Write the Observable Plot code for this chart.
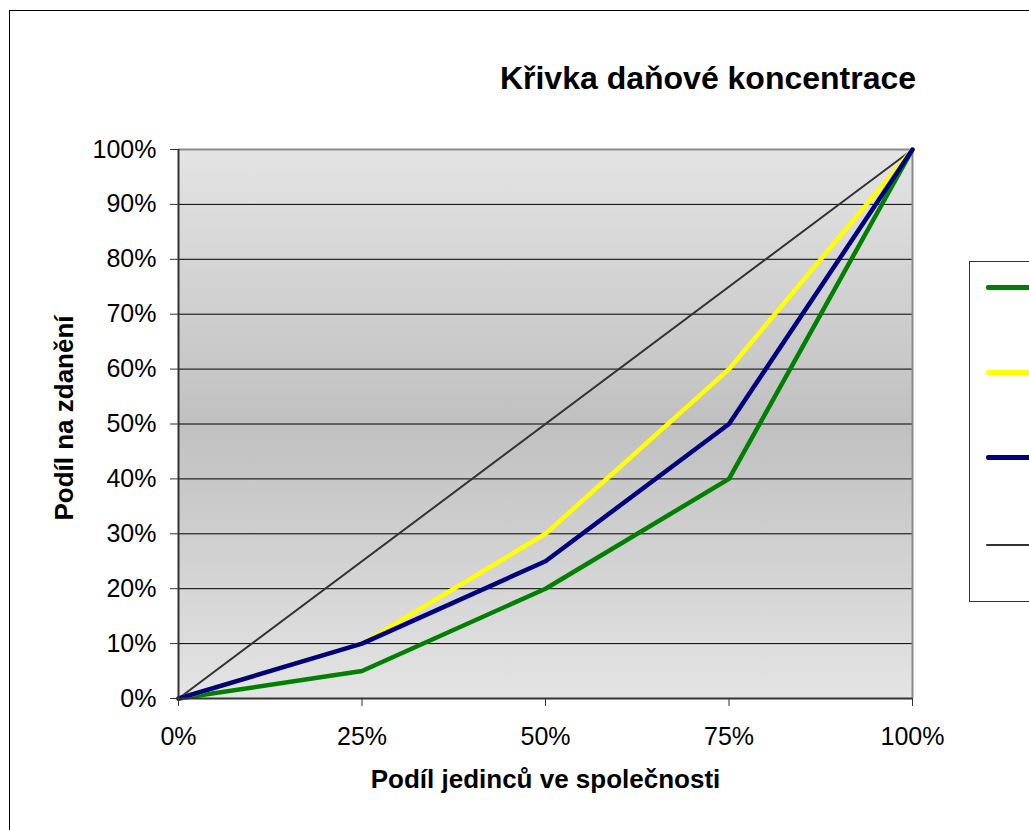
<!DOCTYPE html>
<html>
<head>
<meta charset="utf-8">
<script src="https://cdn.jsdelivr.net/npm/d3@7"></script>
<script src="https://cdn.jsdelivr.net/npm/@observablehq/plot@0.6"></script>
<style>
  html, body { margin: 0; padding: 0; background: #fff; overflow: hidden; }
  #wrap { position: relative; width: 1029px; height: 830px; overflow: hidden; font-family: "Liberation Sans", Arial, sans-serif; }
  #outer { position: absolute; left: 9px; top: 10px; width: 1200px; height: 1000px; border: 1px solid #000; box-sizing: border-box; }
  #chart { position: absolute; left: 0; top: 0; }
  #title { position: absolute; left: 358px; width: 700px; top: 60px; text-align: center; font-weight: bold; font-size: 32px; color: #000; white-space: nowrap; }
  #legend { position: absolute; left: 969px; top: 261px; width: 200px; height: 341px; border: 1px solid #333; box-sizing: border-box; background: #fff; }
  .lg { position: absolute; left: 16px; width: 120px; border-radius: 2px; }
</style>
</head>
<body>
<div id="wrap">
  <div id="outer"></div>
  <div id="chart"></div>
  <div id="title">Křivka daňové koncentrace</div>
  <div id="legend"></div>
</div>
<script>
// ---- data ----
const populationShare = [0, 0.25, 0.5, 0.75, 1];
const seriesGreen  = [0, 0.05, 0.20, 0.40, 1.00];
const seriesYellow = [0, 0.10, 0.30, 0.60, 1.00];
const seriesNavy   = [0, 0.10, 0.25, 0.50, 1.00];
const equalityX = [0, 1];
const equalityY = [0, 1];
const xTicks = [0, 0.25, 0.5, 0.75, 1];
const yTicks = [0, 0.1, 0.2, 0.3, 0.4, 0.5, 0.6, 0.7, 0.8, 0.9, 1];
const gridTicks = [0.1, 0.2, 0.3, 0.4, 0.5, 0.6, 0.7, 0.8, 0.9];
const seriesNames = ["Řada 1", "Řada 2", "Řada 3", "Rovnoměrné rozdělení"];
const seriesColors = ["#008000", "#ffff00", "#000080", "#333333"];
const xLabel = "Podíl jedinců ve společnosti";
const yLabel = "Podíl na zdanění";

const mk = (xs, ys, name) => xs.map((x, i) => ({x, y: ys[i], name}));
const dGreen = mk(populationShare, seriesGreen, seriesNames[0]);
const dYellow = mk(populationShare, seriesYellow, seriesNames[1]);
const dNavy = mk(populationShare, seriesNavy, seriesNames[2]);
const dEq = mk(equalityX, equalityY, seriesNames[3]);

const pct = d3.format(".0%");
const font = "Liberation Sans, Arial, sans-serif";

const plot = Plot.plot({
  width: 1029,
  height: 830,
  marginLeft: 178,
  marginRight: 117,
  marginTop: 149,
  marginBottom: 132,
  style: { background: "transparent", fontFamily: font, color: "#000" },
  x: { domain: [0, 1] },
  y: { domain: [0, 1] },
  marks: [
    Plot.frame({ fill: "url(#bgGrad)", stroke: null }),
    Plot.gridY(gridTicks, { stroke: "#000", strokeOpacity: 1, strokeWidth: 1 }),
    Plot.ruleY([1], { stroke: "#8a8a8a", strokeWidth: 2 }),
    Plot.ruleX([1], { stroke: "#8a8a8a", strokeWidth: 2 }),
    Plot.line(dEq, { x: "x", y: "y", stroke: seriesColors[3], strokeWidth: 2 }),
    Plot.line(dGreen, { x: "x", y: "y", stroke: seriesColors[0], strokeWidth: 4.5 }),
    Plot.line(dYellow, { x: "x", y: "y", stroke: seriesColors[1], strokeWidth: 4.5 }),
    Plot.line(dNavy, { x: "x", y: "y", stroke: seriesColors[2], strokeWidth: 4.5 }),
    Plot.ruleX([0], { stroke: "#333", strokeWidth: 2 }),
    Plot.ruleY([0], { stroke: "#333", strokeWidth: 2 }),
    Plot.axisY({ ticks: yTicks, tickFormat: pct, tickSize: 8, tickPadding: 14, fontSize: 25, stroke: "#333", label: null }),
    Plot.axisX({ ticks: xTicks, tickFormat: pct, tickSize: 8, tickPadding: 21, fontSize: 25, stroke: "#333", label: null }),
    Plot.text([xLabel], { frameAnchor: "bottom", lineAnchor: "middle", textAnchor: "middle", dy: 81, text: d => d, fontWeight: "bold", fontSize: 26, fill: "#000" }),
    Plot.text([yLabel], { frameAnchor: "left", lineAnchor: "middle", textAnchor: "middle", dx: -114, dy: -6, rotate: -90, text: d => d, fontWeight: "bold", fontSize: 26, fill: "#000" })
  ]
});

const defs = d3.select(plot).insert("defs", ":first-child");
const grad = defs.append("linearGradient").attr("id", "bgGrad")
  .attr("x1", 0).attr("y1", 0).attr("x2", 0).attr("y2", 1);
grad.append("stop").attr("offset", "0%").attr("stop-color", "#e4e4e4");
grad.append("stop").attr("offset", "50%").attr("stop-color", "#c0c0c0");
grad.append("stop").attr("offset", "100%").attr("stop-color", "#e4e4e4");

document.getElementById("chart").appendChild(plot);

// legend (text lies outside the visible window in the reference)
const legend = document.getElementById("legend");
const legendTops = [25, 110, 195, 283];
seriesColors.forEach((c, i) => {
  const el = document.createElement("div");
  el.className = "lg";
  const h = i === 3 ? 2 : 5;
  el.style.top = (legendTops[i] - h / 2) + "px";
  el.style.height = h + "px";
  el.style.background = c;
  legend.appendChild(el);
});
</script>
</body>
</html>
